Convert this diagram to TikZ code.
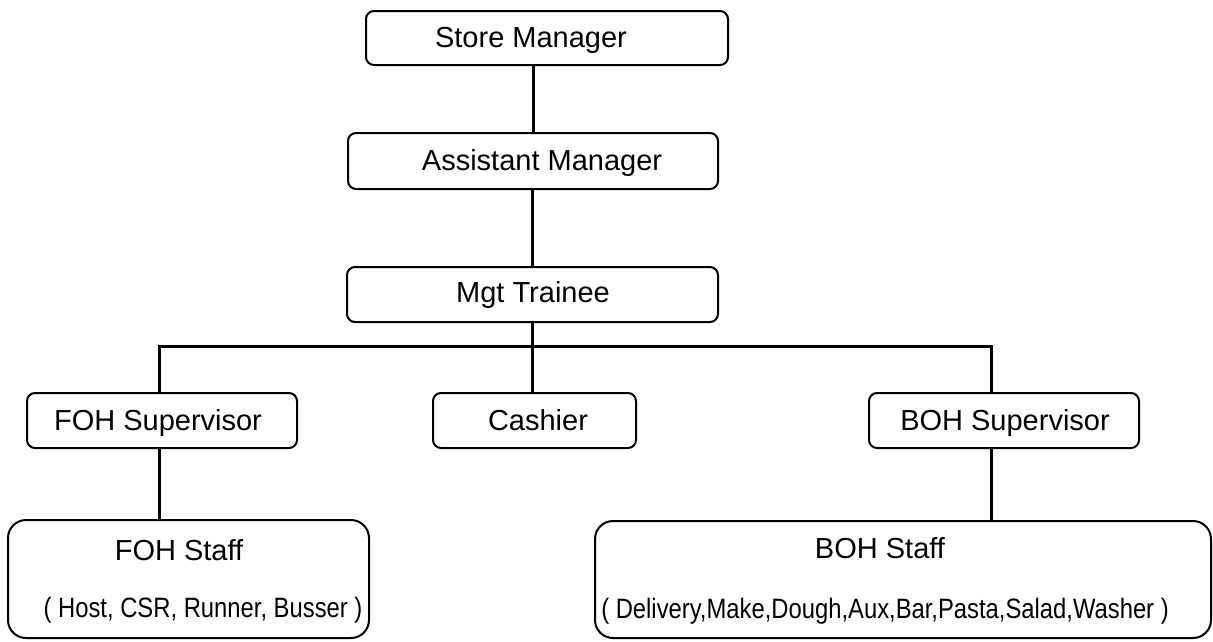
\documentclass[tikz,border=0pt]{standalone}
\usepackage{fontspec}
\usepackage{graphicx}
\setmainfont{Liberation Sans}
\tikzset{
  box/.style={draw=black, line width=2pt, rounded corners=8pt, inner sep=0pt},
  bigbox/.style={draw=black, line width=2pt, rounded corners=18pt, inner sep=0pt},
  lbl/.style={anchor=base, inner sep=0pt, font=\fontsize{29}{32}\selectfont},
  sub/.style={anchor=base, inner sep=0pt, font=\fontsize{28}{30}\selectfont},
  conn/.style={draw=black, line width=3pt}
}
\begin{document}
\begin{tikzpicture}[x=1pt,y=-1pt]
\useasboundingbox (0,0) rectangle (1213,641);
% boxes
\node[box, minimum width=362pt, minimum height=54pt] (sm) at (547,38) {};
\node[box, minimum width=370pt, minimum height=56pt] (am) at (533,161) {};
\node[box, minimum width=371pt, minimum height=55pt] (mgt) at (532.5,294.5) {};
\node[box, minimum width=270pt, minimum height=55pt] (fohs) at (162,420.5) {};
\node[box, minimum width=203pt, minimum height=55pt] (cash) at (534.5,420.5) {};
\node[box, minimum width=270pt, minimum height=55pt] (bohs) at (1004,420.5) {};
\node[bigbox, minimum width=361pt, minimum height=118pt] (fohst) at (188.5,579) {};
\node[bigbox, minimum width=616pt, minimum height=117pt] (bohst) at (903,579.5) {};
% texts
\node[lbl] (tsm) at (531,47) {Store Manager};
\node[lbl] (tam) at (542,170) {Assistant Manager};
\node[lbl] (tmgt) at (533,302) {Mgt Trainee};
\node[lbl] (tfohs) at (158,430) {FOH Supervisor};
\node[lbl] (tcash) at (538,430) {Cashier};
\node[lbl] (tbohs) at (1005,430) {BOH Supervisor};
\node[lbl] (tfohst) at (179,560) {FOH Staff};
\node[sub] (sfohst) at (203,617) {\scalebox{0.85}[1]{( Host, CSR, Runner, Busser )}};
\node[lbl] (tbohst) at (880,558) {BOH Staff};
\node[sub] (sbohst) at (885,618) {\scalebox{0.85}[1]{( Delivery,Make,Dough,Aux,Bar,Pasta,Salad,Washer )}};
% connectors
\coordinate (hl) at (159,346);
\coordinate (hr) at (991,346);
\draw[conn] (am.north) -- (am.north |- sm.south);
\draw[conn] (mgt.north) -- (mgt.north |- am.south);
\draw[conn] (mgt.south) -- (mgt.south |- cash.north);
\draw[conn] (fohs.north -| hl) -- (hl) -- (hr) -- (bohs.north -| hr);
\draw[conn] (fohs.south -| hl) -- (fohst.north -| hl);
\draw[conn] (bohs.south -| hr) -- (bohst.north -| hr);
\end{tikzpicture}
\end{document}
